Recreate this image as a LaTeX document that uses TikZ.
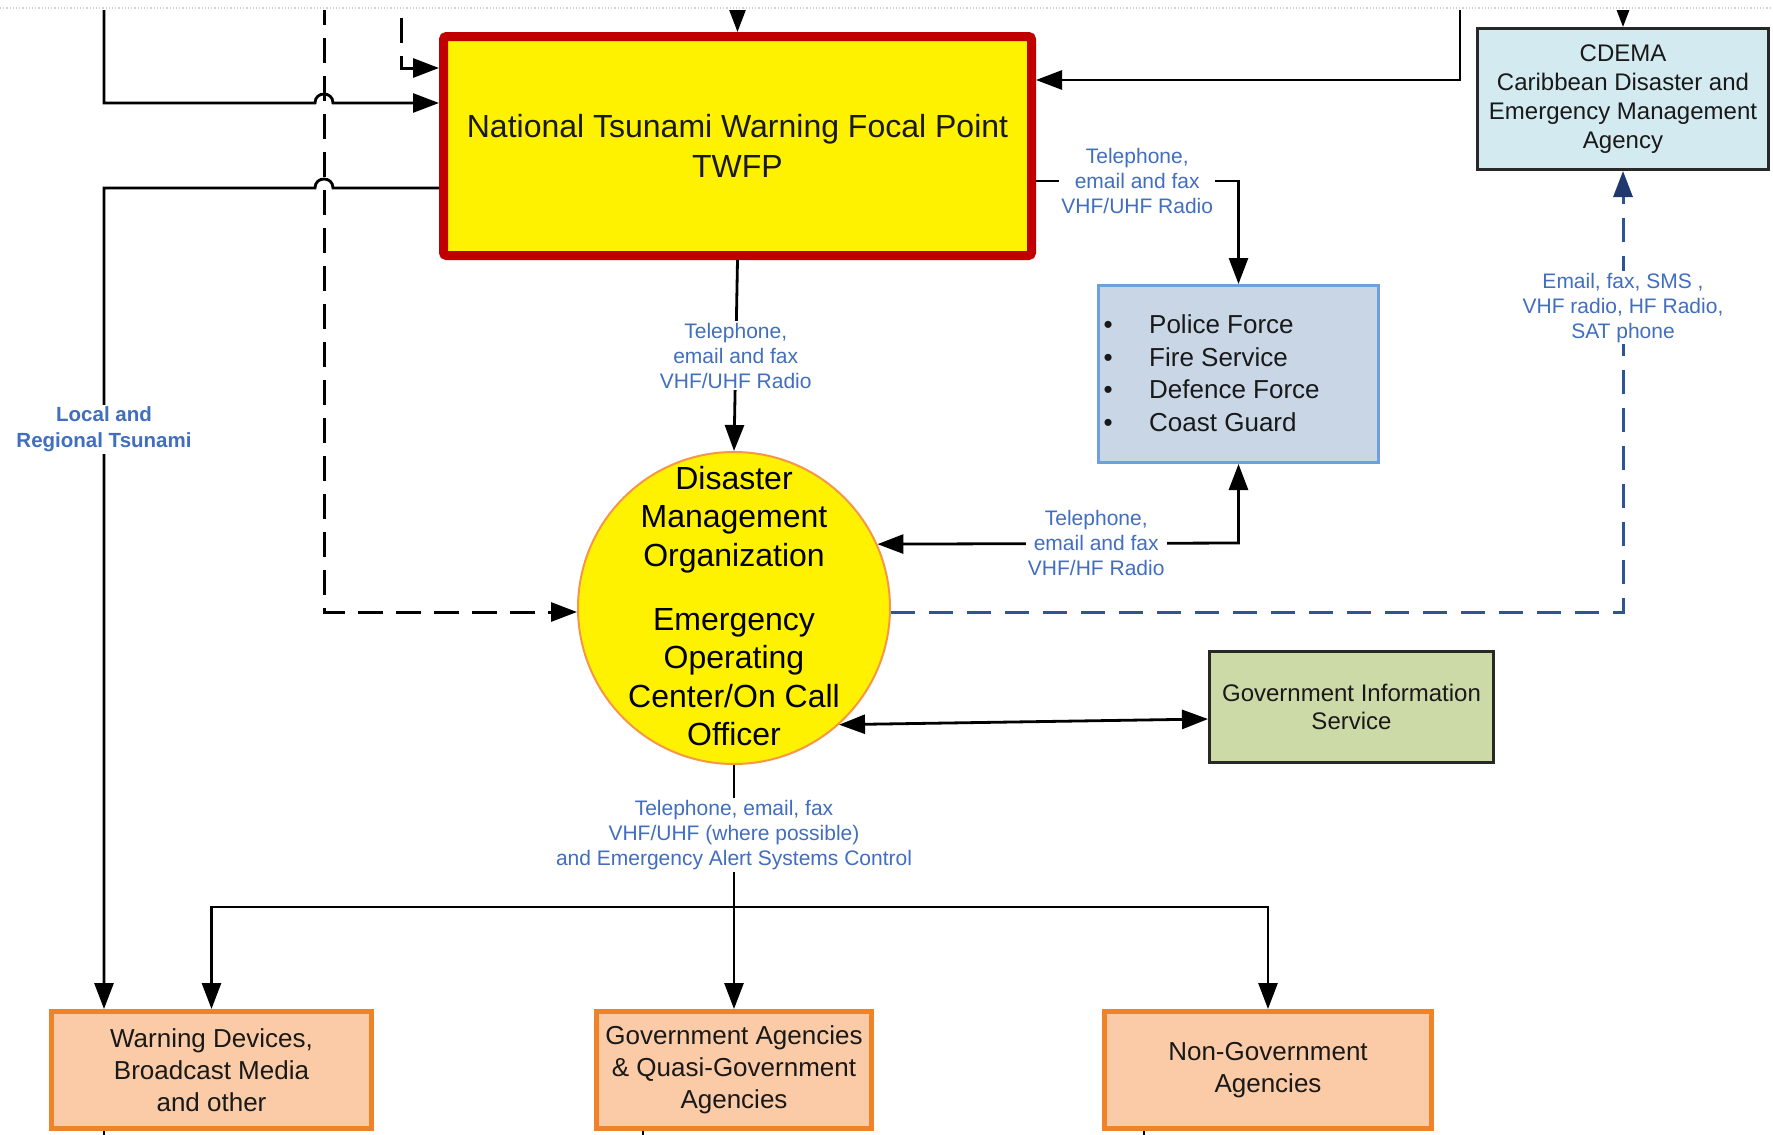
\documentclass[tikz,border=0pt]{standalone}
\usepackage{fontspec}
\setmainfont{Liberation Sans}
\usetikzlibrary{arrows.meta}
\definecolor{twred}{RGB}{192,0,0}
\definecolor{circborder}{RGB}{247,150,70}
\definecolor{polfill}{RGB}{200,214,230}
\definecolor{polborder}{RGB}{110,160,220}
\definecolor{cdemafill}{RGB}{211,234,240}
\definecolor{gisfill}{RGB}{204,218,168}
\definecolor{boxdark}{RGB}{40,40,40}
\definecolor{orfill}{RGB}{250,203,166}
\definecolor{orborder}{RGB}{240,130,40}
\definecolor{lblblue}{RGB}{65,110,190}
\definecolor{dashblue}{RGB}{47,84,150}
\definecolor{tipnavy}{RGB}{31,56,110}
\definecolor{textdark}{RGB}{25,25,25}
\begin{document}
\begin{tikzpicture}[x=1pt,y=-1pt,
  conn/.style={line width=2.8pt, draw=black},
  tipend/.style={conn, -{Triangle[length=26pt,width=19pt]}},
  bothends/.style={conn, {Triangle[length=26pt,width=19pt]}-{Triangle[length=26pt,width=19pt]}},
  dashline/.style={line width=3pt, draw=black, dash pattern=on 25pt off 13pt, -{Triangle[length=26pt,width=19pt]}},
  bluedash/.style={line width=3pt, draw=dashblue, dash pattern=on 24pt off 14pt, -{Triangle[length=26pt,width=19pt,color=tipnavy]}},
  lbl/.style={font=\fontsize{21}{25}\selectfont, text=lblblue, fill=white, inner sep=2pt, align=center},
  lblbold/.style={lbl, font=\fontsize{20.5}{26}\selectfont\bfseries},
  plainbox/.style={rectangle, inner sep=0pt, align=center, text=textdark},
  orbox/.style={plainbox, draw=orborder, fill=orfill, line width=5pt, minimum height=117pt, font=\fontsize{26}{32}\selectfont},
]
\useasboundingbox (0,0) rectangle (1773,1135);
\fill[white] (0,0) rectangle (1773,1135);
\draw[black!18, line width=1.2pt, dotted] (0,8) -- (1773,8);
\begin{scope}
\clip (0,10) rectangle (1773,1135);

% nodes
\node[plainbox, draw=twred, line width=9pt, fill=yellow, rounded corners=3pt, minimum width=588pt, minimum height=219pt, font=\fontsize{32}{40}\selectfont] (twfp) at (737.5,146) {National Tsunami Warning Focal Point\\TWFP};

\node[circle, draw=circborder, line width=2pt, fill=yellow, minimum size=312pt, inner sep=0pt] (dmo) at (734,608) {};
\node[align=center, font=\fontsize{32}{38.4}\selectfont, inner sep=0pt, text=black] (dmotext) at (734,606) {Disaster\\Management\\Organization\\[26pt]Emergency\\Operating\\Center/On Call\\Officer};

\node[plainbox, draw=polborder, fill=polfill, line width=3pt, minimum width=280pt, minimum height=177pt] (police) at (1238.5,374) {};
\node[anchor=west, inner sep=0pt, align=left, font=\fontsize{26}{32.5}\selectfont, text=textdark] (polist) at (1103.5,373) {\makebox[45.5pt][l]{\textbullet}Police Force\\\makebox[45.5pt][l]{\textbullet}Fire Service\\\makebox[45.5pt][l]{\textbullet}Defence Force\\\makebox[45.5pt][l]{\textbullet}Coast Guard};

\node[plainbox, draw=boxdark, fill=cdemafill, line width=3pt, minimum width=291pt, minimum height=141pt, font=\fontsize{24}{29}\selectfont] (cdema) at (1623,99) {CDEMA\\Caribbean Disaster and\\Emergency Management\\Agency};

\node[plainbox, draw=boxdark, fill=gisfill, line width=3pt, minimum width=284pt, minimum height=111pt, font=\fontsize{24}{28}\selectfont] (gis) at (1351.5,707) {Government Information\\Service};

\node[orbox, minimum width=320pt] (warn) at (211.5,1070) {Warning Devices,\\Broadcast Media\\and other};
\node[orbox, minimum width=275pt] (gov) at (734,1070) {Government Agencies\\\& Quasi-Government\\Agencies};
\node[orbox, minimum width=327pt] (ngo) at (1268,1070) {Non-Government\\Agencies};

% coordinates
\coordinate (a1) at (104,0);
\coordinate (a2) at (104,103);
\coordinate (b1) at (104,188);
\coordinate (c1) at (324,0);
\coordinate (c2) at (324,612);
\coordinate (d1) at (401,18);
\coordinate (d2) at (401,68);
\coordinate (e1) at (1460,0);
\coordinate (e2) at (1460,80);
\coordinate (t1) at (737.5,-20);
\coordinate (t2) at (1623,-20);
\coordinate (f1) at (1238.5,181);
\coordinate (g1) at (1238.5,543);
\coordinate (h1) at (1623,612);
\coordinate (j1) at (734,907);
\coordinate (k1) at (104,1140);
\coordinate (k2) at (643,1140);
\coordinate (k3) at (1144,1140);

% connectors
\draw[tipend] (a1) -- (a2) -- (315,103) .. controls (315,91) and (333,91) .. (333,103) -- (a2 -| twfp.west);
\draw[tipend] (b1 -| twfp.west) -- (333,188) .. controls (333,176) and (315,176) .. (315,188) -- (b1) -- node[lblbold, pos=0.294]{Local and\\Regional Tsunami} (b1 |- warn.north);
\draw[dashline] (c1) -- (c2) -- (c2 -| dmo.west);
\draw[dashline] (d1) -- (d2) -- (d2 -| twfp.west);
\draw[tipend] (e1) -- (e2) -- (e2 -| twfp.east);
\draw[tipend] (t1) -- (twfp.north);
\draw[tipend] (t2) -- (cdema.north);
\draw[tipend] (f1 -| twfp.east) -- node[lbl]{Telephone,\\email and fax\\VHF/UHF Radio} (f1) -- (police.north);
\draw[tipend] (twfp.south) -- node[lbl]{Telephone,\\email and fax\\VHF/UHF Radio} (dmo.north);
\draw[bothends] (police.south) -- (g1) -- node[lbl, pos=0.394]{Telephone,\\email and fax\\VHF/HF Radio} (dmo.24.6);
\draw[bluedash] (c2 -| dmo.east) -- (h1) -- node[lbl, pos=0.69]{Email, fax, SMS ,\\VHF radio, HF Radio,\\SAT phone} (cdema.south);
\draw[bothends] (dmo.-48) -- ([yshift=-12pt]gis.west);
\draw[tipend] (dmo.south) -- node[lbl, pos=0.287]{Telephone, email, fax\\VHF/UHF (where possible)\\and Emergency Alert Systems Control} (gov.north);
\draw[bothends] (warn.north) -- (j1 -| warn.north) -- (j1 -| ngo.north) -- (ngo.north);
\draw[conn] (k1 |- warn.south) -- (k1);
\draw[conn] (k2 |- gov.south) -- (k2);
\draw[conn] (k3 |- ngo.south) -- (k3);
\end{scope}
\end{tikzpicture}
\end{document}
